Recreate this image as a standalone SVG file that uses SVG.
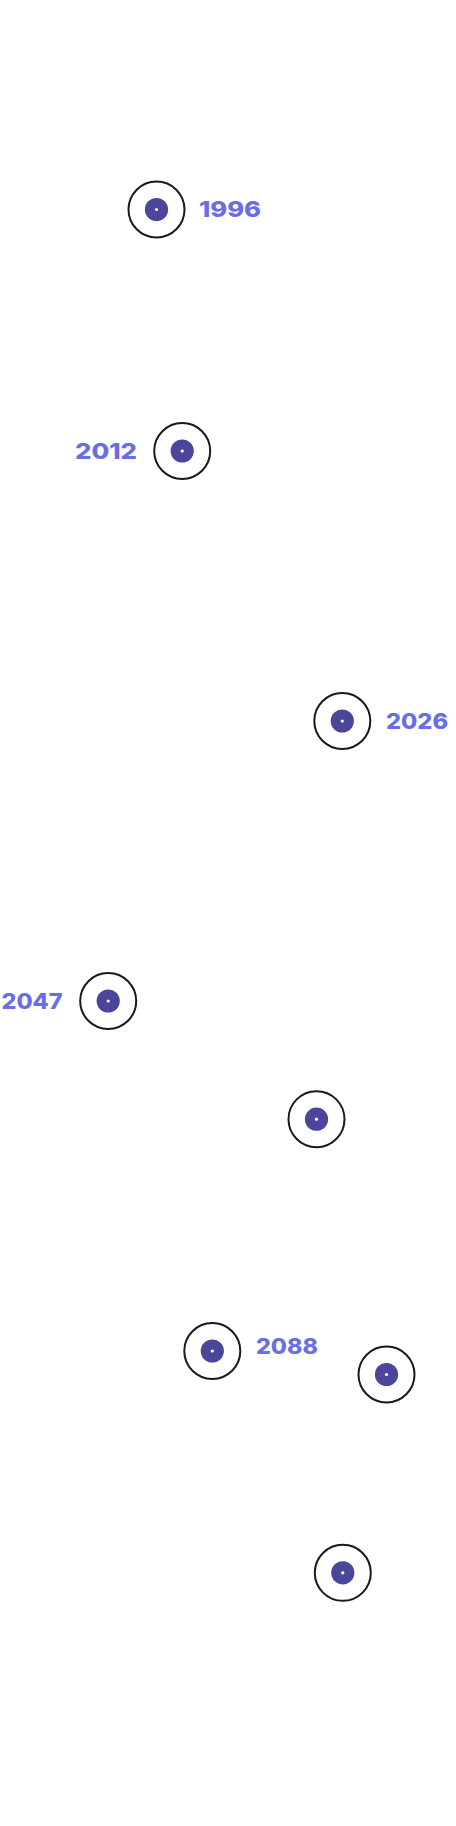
<svg xmlns="http://www.w3.org/2000/svg" width="456" height="1826" viewBox="0 0 456 1826">
<style>
.ring{fill:#fff;stroke:#1a1a1a;stroke-width:2}
.dot{fill:#4b4699}
.pin{fill:#fff}
.lbl{font-family:Inter,"Liberation Sans",sans-serif;font-weight:800;font-size:22px;fill:#6a6ee6}
</style>
<rect width="456" height="1826" fill="#fff"/>
<g id="connectors"></g>
<defs>
<g id="m"><circle class="ring" r="28"/><circle class="dot" r="11.6"/><circle class="pin" r="1.6"/></g>
</defs>
<g id="n1996"><use href="#m" x="156.5" y="209.5"/><text class="lbl" x="199" y="217" textLength="62" lengthAdjust="spacingAndGlyphs">1996</text></g>
<g id="n2012"><use href="#m" x="182.2" y="451"/><text class="lbl" x="75" y="459" textLength="62" lengthAdjust="spacingAndGlyphs">2012</text></g>
<g id="n2026"><use href="#m" x="342.3" y="721"/><text class="lbl" x="386" y="729" textLength="62" lengthAdjust="spacingAndGlyphs">2026</text></g>
<g id="n2047"><use href="#m" x="108.2" y="1001"/><text class="lbl" x="1.5" y="1009" textLength="61" lengthAdjust="spacingAndGlyphs">2047</text></g>
<g id="n5"><use href="#m" x="316.5" y="1119.2"/></g>
<g id="n2088"><use href="#m" x="212.3" y="1351"/><text class="lbl" x="256" y="1353.5" textLength="62" lengthAdjust="spacingAndGlyphs">2088</text></g>
<g id="n7"><use href="#m" x="386.5" y="1374.5"/></g>
<g id="n8"><use href="#m" x="342.8" y="1572.8"/></g>
</svg>
